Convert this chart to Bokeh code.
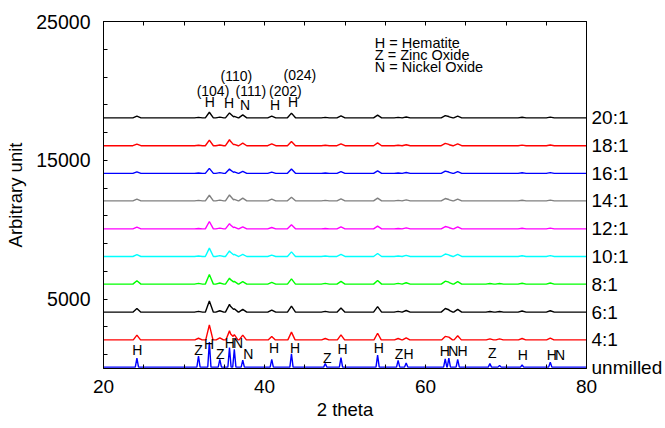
import numpy as np
from bokeh.plotting import figure
from bokeh.models import FixedTicker, LinearAxis
from bokeh.core.properties import value
from bokeh.embed import file_html
from bokeh.resources import INLINE

# ---------------- data ----------------
# peak positions (2 theta, degrees)
peak_pos = [24.15, 31.8, 33.15, 34.45, 35.65, 36.25, 37.3, 40.9, 43.35, 47.55, 49.5,
            54.05, 56.6, 57.6, 62.45, 62.9, 64.0, 68.0, 69.2, 72.0, 75.5]

series_names = ["unmilled", "4:1", "6:1", "8:1", "10:1", "12:1", "14:1", "16:1", "18:1", "20:1"]
series_base = [100, 2060, 4060, 6080, 8070, 10060, 12080, 14060, 16050, 18060]
series_colors = ["#0000ff", "#ff0000", "#000000", "#00ff00", "#00ffff", "#ff00ff",
                 "#808080", "#0000ff", "#ff0000", "#000000"]
series_halfwidth = [0.2, 0.45, 0.5, 0.5, 0.5, 0.5, 0.5, 0.5, 0.5, 0.5]

h_unmilled = [650, 800, 1800, 550, 1400, 1280, 500, 550, 960, 260, 680, 860, 480, 300, 600, 650, 550, 250, 120, 150, 350]
h_4 = [350, 120, 1080, 150, 650, 380, 350, 250, 560, 100, 360, 480, 100, 150, 250, 200, 300, 80, 80, 100, 130]
h_6 = [270, 60, 800, 100, 560, 250, 200, 150, 430, 60, 300, 400, 60, 120, 250, 150, 200, 50, 50, 80, 100]
h_8 = [240, 50, 700, 80, 430, 200, 180, 120, 380, 50, 200, 260, 50, 100, 200, 120, 180, 40, 40, 60, 80]
h_10 = [130, 40, 600, 60, 400, 150, 160, 100, 330, 40, 150, 220, 40, 80, 170, 100, 150, 0, 0, 50, 60]
h_12 = [120, 30, 530, 50, 380, 120, 140, 100, 290, 30, 150, 200, 30, 70, 160, 90, 140, 0, 0, 40, 50]
h_14 = [120, 30, 400, 50, 430, 100, 190, 120, 260, 30, 140, 200, 30, 70, 160, 80, 130, 0, 0, 40, 50]
h_16 = [110, 30, 360, 50, 310, 100, 140, 90, 310, 30, 130, 180, 30, 60, 150, 80, 120, 0, 0, 40, 50]
h_18 = [120, 30, 400, 50, 430, 100, 190, 140, 310, 30, 140, 200, 30, 70, 160, 80, 130, 0, 0, 40, 50]
h_20 = [120, 30, 400, 50, 360, 100, 215, 120, 340, 30, 140, 200, 30, 60, 150, 80, 120, 0, 0, 40, 50]
series_heights = [h_unmilled, h_4, h_6, h_8, h_10, h_12, h_14, h_16, h_18, h_20]

# phase labels over the unmilled pattern
ann_text = ["H", "Z", "H", "Z", "H", "N", "N", "H", "H", "Z", "H", "H", "Z", "H",
            "H", "N", "H", "Z", "H", "H", "N"]
ann_x = [24.2, 31.8, 33.1, 34.5, 35.7, 36.7, 38.0, 41.2, 43.8, 47.8, 49.7, 54.2, 56.7, 57.9,
         62.4, 63.45, 64.6, 68.3, 72.1, 75.7, 76.7]
ann_y = [1300, 1300, 1730, 1010, 1840, 1840, 1080, 1510, 1510, 790, 1440, 1510, 1010, 1010,
         1225, 1225, 1225, 1150, 940, 940, 940]

# reflection labels over the 20:1 pattern
top_text = ["(104)", "H", "(110)", "H", "(111)", "N", "(202)", "H", "(024)", "H"]
top_x = [33.6, 33.2, 36.5, 35.6, 38.3, 37.6, 42.6, 41.3, 44.4, 43.55]
top_y = [19960, 19190, 21040, 19150, 19960, 18990, 19960, 18990, 21180, 19190]

key_text = ["H = Hematite", "Z = Zinc Oxide", "N = Nickel Oxide"]
key_x = [53.7, 53.7, 53.7]
key_y = [23480, 22600, 21720]

x_tick_values = [20, 25, 30, 35, 40, 45, 50, 55, 60, 65, 70, 75, 80]
x_tick_labels = ["20", "", "", "", "40", "", "", "", "60", "", "", "", "80"]
y_tick_values = [1000, 3000, 5000, 7000, 9000, 11000, 13000, 15000, 17000, 19000, 21000, 23000, 25000]
y_tick_labels = ["", "", "5000", "", "", "", "", "15000", "", "", "", "", "25000"]

FONT = "Liberation Sans"

p = figure(width=665, height=428, x_range=(20, 80), y_range=(0, 25000),
           output_backend="svg", toolbar_location=None,
           min_border_left=103, min_border_right=78, min_border_top=21, min_border_bottom=60)
p.xgrid.visible = False
p.ygrid.visible = False
p.outline_line_color = "black"
p.outline_line_width = 1
p.background_fill_color = "white"
p.border_fill_color = "white"


def build_line(base, heights, hw):
    xs = {20.0, 80.0}
    for pos, h in zip(peak_pos, heights):
        if h > 0:
            xs.update([pos - hw, pos, pos + hw])
    xs = np.array(sorted(xs))
    ys = np.full_like(xs, float(base))
    for pos, h in zip(peak_pos, heights):
        if h > 0:
            ys += h * np.clip(1 - np.abs(xs - pos) / hw, 0, None)
    return xs, ys


for base, heights, hw, col in zip(series_base, series_heights, series_halfwidth, series_colors):
    xs, ys = build_line(base, heights, hw)
    p.line(xs, ys, line_color=col, line_width=1.4)

p.text(x=ann_x, y=ann_y, text=ann_text, text_align="center", text_baseline="middle",
       text_font=value(FONT), text_font_size="14px", text_color="black")
p.text(x=top_x, y=top_y, text=top_text, text_align="center", text_baseline="middle",
       text_font=value(FONT), text_font_size="14px", text_color="black")
p.text(x=key_x, y=key_y, text=key_text, text_align="left", text_baseline="middle",
       text_font=value(FONT), text_font_size="14.5px", text_color="black")


def style_axis(ax, size="19px"):
    ax.axis_line_color = "black"
    ax.major_tick_line_color = "black"
    ax.major_tick_in = 4
    ax.major_tick_out = 0
    ax.minor_tick_line_color = None
    ax.major_label_text_font = FONT
    ax.major_label_text_font_size = size
    ax.major_label_text_color = "black"
    ax.axis_label_text_font = FONT
    ax.axis_label_text_font_size = "18.5px"
    ax.axis_label_text_font_style = "normal"
    ax.axis_label_text_color = "black"


xa = p.xaxis[0]
style_axis(xa, "19px")
xa.ticker = FixedTicker(ticks=x_tick_values)
xa.major_label_overrides = {v: s for v, s in zip(x_tick_values, x_tick_labels)}
xa.major_label_standoff = 11
xa.axis_label = "2 theta"
xa.axis_label_standoff = 3

ya = p.yaxis[0]
style_axis(ya, "19.5px")
ya.ticker = FixedTicker(ticks=y_tick_values)
ya.major_label_overrides = {v: s for v, s in zip(y_tick_values, y_tick_labels)}
ya.major_label_standoff = 13
ya.axis_label = "Arbitrary unit"
ya.axis_label_standoff = 7

top = LinearAxis(ticker=FixedTicker(ticks=x_tick_values))
style_axis(top)
top.major_label_overrides = {v: "" for v in x_tick_values}
top.major_label_text_font_size = "1px"
top.major_label_standoff = 0
p.add_layout(top, "above")

right = LinearAxis(ticker=FixedTicker(ticks=series_base))
style_axis(right, "19px")
right.major_tick_in = 0
right.major_label_overrides = {v: s for v, s in zip(series_base, series_names)}
right.major_label_standoff = 5
p.add_layout(right, "right")

open("out.html", "w").write(file_html(p, INLINE))
